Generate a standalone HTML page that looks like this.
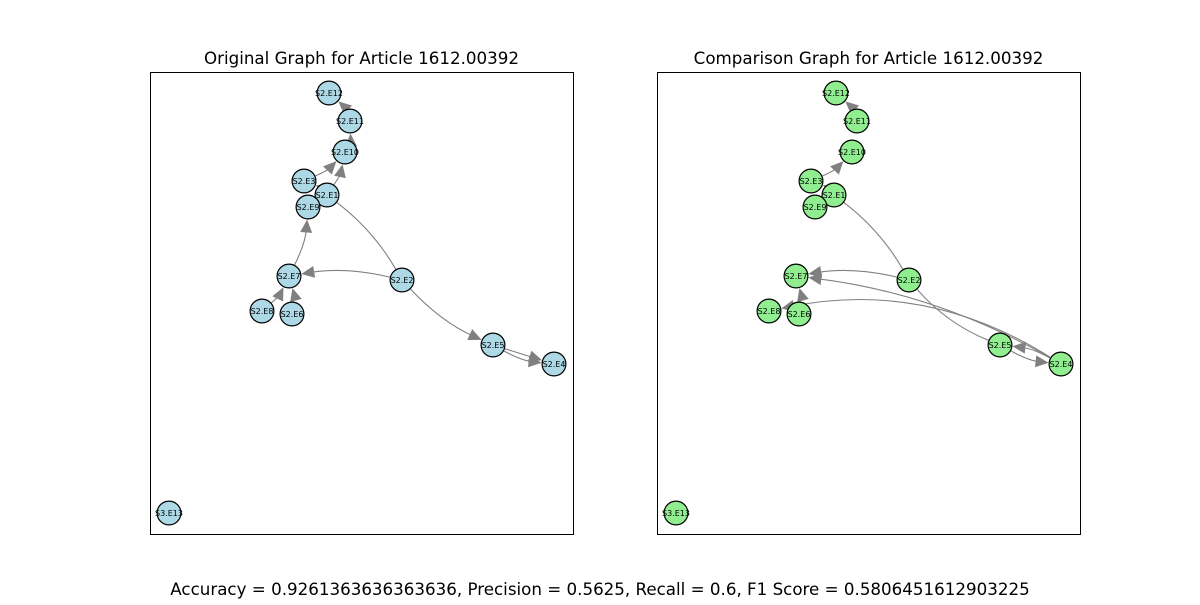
<!DOCTYPE html>
<html><head><meta charset="utf-8"><style>
body{margin:0;background:#fff;font-family:"Liberation Sans","DejaVu Sans",sans-serif}
svg text{font-family:"DejaVu Sans","Liberation Sans",sans-serif}
</style></head><body>
<svg id="c" width="1200" height="600" xmlns="http://www.w3.org/2000/svg">
<rect x="0" y="0" width="1200" height="600" fill="#fff"/>
<text x="361.5" y="64" font-size="16.7" text-anchor="middle">Original Graph for Article 1612.00392</text>
<text x="868.5" y="64" font-size="16.7" text-anchor="middle">Comparison Graph for Article 1612.00392</text>
<rect x="150.5" y="72.5" width="423" height="462" fill="none" stroke="#000" stroke-width="1"/>
<rect x="657.5" y="72.5" width="423" height="462" fill="none" stroke="#000" stroke-width="1"/>
<text x="600" y="595" font-size="16.7" text-anchor="middle">Accuracy = 0.9261363636363636, Precision = 0.5625, Recall = 0.6, F1 Score = 0.5806451612903225</text>
<g id="left"></g>
<g id="right"></g>
</svg>
<script>
const nodeNames=["S2.E12","S2.E11","S2.E10","S2.E3","S2.E1","S2.E9","S2.E7","S2.E2","S2.E8","S2.E6","S2.E5","S2.E4","S3.E13"];
const nodeX=[179,200,195,154,177,158,139,252,112,142,343,404,19];
const nodeY=[21,49,80,109,123,135,204,208,239,242,273,292,441];
// [source, target, curvature, arrowhead visible]
const origEdges=[["S2.E11","S2.E12",0.1,1],["S2.E10","S2.E11",0.1,1],["S2.E3","S2.E10",0.1,1],["S2.E1","S2.E10",0.1,1],["S2.E1","S2.E3",0.1,1],["S2.E7","S2.E9",0.1,1],["S2.E2","S2.E7",0.1,1],["S2.E2","S2.E1",0.1,0],["S2.E2","S2.E5",0.1,1],["S2.E5","S2.E4",0.1,1],["S2.E5","S2.E4",0,1],["S2.E8","S2.E7",0.1,1],["S2.E6","S2.E7",0.1,1]];
const compEdges=[["S2.E11","S2.E12",0.1,1],["S2.E3","S2.E10",0.1,1],["S2.E1","S2.E3",0.1,1],["S2.E2","S2.E1",0.1,0],["S2.E2","S2.E7",0.1,1],["S2.E4","S2.E7",0.1,1],["S2.E6","S2.E7",0.1,1],["S2.E4","S2.E8",0.2,1],["S2.E4","S2.E5",0.1,1],["S2.E2","S2.E5",0.12,0],["S2.E5","S2.E4",0.1,1]];
const NS="http://www.w3.org/2000/svg";
const R=12.5;
function mk(t,a){const e=document.createElementNS(NS,t);for(const k in a)e.setAttribute(k,a[k]);return e;}
function draw(gid,ox,oy,edges,fill){
  const g=document.getElementById(gid);
  const px=n=>ox+nodeX[nodeNames.indexOf(n)], py=n=>oy+nodeY[nodeNames.indexOf(n)];
  edges.forEach(([a,b,f,head])=>{
    const x1=px(a),y1=py(a),x2=px(b),y2=py(b);
    const dx=x2-x1,dy=y2-y1;
    const cx=(x1+x2)/2-f*dy, cy=(y1+y2)/2+f*dx;
    let tx=x2-cx,ty=y2-cy;const tl=Math.hypot(tx,ty);tx/=tl;ty/=tl;
    let sx=cx-x1,sy=cy-y1;const sl=Math.hypot(sx,sy);sx/=sl;sy/=sl;
    const ex=x2-tx*R,ey=y2-ty*R, bx=x1+sx*R,by=y1+sy*R;
    const back=head?9:0;
    const p=mk("path",{d:`M${bx},${by} Q${cx},${cy} ${ex-tx*back},${ey-ty*back}`,fill:"none",stroke:"#808080","stroke-width":1.1});
    
    
    g.appendChild(p);
    if(head){
      const L=13,W=6,nx=-ty,ny=tx;
      const ah=mk("polygon",{points:`${ex},${ey} ${ex-tx*L+nx*W},${ey-ty*L+ny*W} ${ex-tx*L-nx*W},${ey-ty*L-ny*W}`,fill:"#808080"});
      
      
      g.appendChild(ah);
    }
  });
  nodeNames.forEach((n,i)=>{
    const c=mk("circle",{cx:ox+nodeX[i],cy:oy+nodeY[i],r:R-0.6,fill:fill,stroke:"#000","stroke-width":1.2});
    
    
    g.appendChild(c);
    const t=mk("text",{x:ox+nodeX[i],y:oy+nodeY[i]+2.8,"font-size":8,"text-anchor":"middle"});
    t.textContent=n;
    
    
    g.appendChild(t);
  });
}
draw("left",150,72,origEdges,"#add8e6");
draw("right",657,72,compEdges,"#90ee90");
</script>
</body></html>
